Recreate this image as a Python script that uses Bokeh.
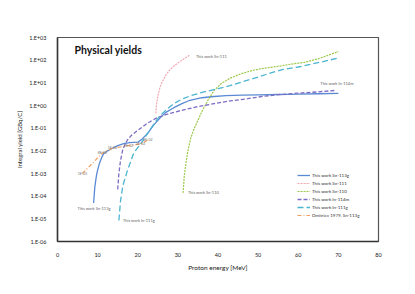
import numpy as np
from bokeh.plotting import figure
from bokeh.models import (FixedTicker, CustomJSTickFormatter, Legend, LegendItem,
                          Label, ColumnDataSource)
from bokeh.core.properties import value
from bokeh.embed import file_html
from bokeh.resources import INLINE

# ---------------- data ----------------
sn113g_E = [9.0, 9.3, 9.7, 10, 10.5, 11, 11.5, 12.5, 13.7, 15, 16.5, 18, 20, 21, 22.5,
            24, 25.7, 27, 29, 31, 33, 36, 39, 42, 46, 50, 55, 60, 65, 70]
sn113g_Y = [5e-5, 2.5e-4, 8e-4, 1.4e-3, 3e-3, 5e-3, 7.5e-3, 1.0e-2, 1.3e-2, 1.7e-2, 2.1e-2,
            2.3e-2, 2.4e-2, 3.2e-2, 6e-2, 0.14, 0.3, 0.5, 0.8, 1.2, 1.7, 2.2, 2.5, 2.7,
            2.85, 2.95, 3.05, 3.15, 3.3, 3.4]

sn111_E = [24.5, 24.7, 25, 25.5, 26, 27, 28, 29, 30, 31, 32, 33]
sn111_Y = [0.45, 1.2, 2.5, 6, 10, 22, 38, 55, 75, 100, 130, 170]

sn110_E = [31.3, 31.6, 32, 32.5, 33.2, 34, 35, 36, 37.5, 39, 40.7, 43, 45.7, 48, 50.7,
           53, 55.7, 58, 61.5, 65, 70]
sn110_Y = [1.4e-4, 8e-4, 2.8e-3, 1e-2, 0.036, 0.09, 0.22, 0.55, 1.7, 4.5, 9, 16, 25, 33,
           42, 48, 56, 66, 80, 115, 240]

in114m_E = [15, 15.3, 15.7, 16.3, 17.4, 18.5, 20, 22.5, 24.5, 27, 30.7, 35, 39, 43, 47.4,
            51, 55, 60, 65, 69]
in114m_Y = [2e-4, 1e-3, 3.7e-3, 1.2e-2, 0.03, 0.05, 0.08, 0.17, 0.27, 0.4, 0.6, 0.9, 1.2,
            1.6, 2.0, 2.5, 3.0, 3.5, 4.0, 4.6]

in111g_E = [15.3, 15.7, 16.3, 17.4, 19, 20.7, 22.5, 24, 25.5, 27.5, 29, 31, 33.2, 36, 40,
            43, 46, 50, 53, 56, 60, 63, 66, 70]
in111g_Y = [8.5e-6, 6e-5, 3e-4, 1.3e-3, 8e-3, 0.02, 0.06, 0.15, 0.35, 0.74, 1.2, 1.9, 2.7,
            3.8, 5.5, 7.5, 11, 18, 27, 38, 50, 65, 85, 125]

dmitriev_E = [6.2, 11.2, 13.7, 17.7, 20.7, 22.5]
dmitriev_Y = [1e-3, 8e-3, 1.3e-2, 1.7e-2, 2e-2, 3e-2]
dmitriev_lbl = ["1E-03", "8E-03", "1E-02", "2E-02", "2E-02", "3E-02"]

series_names = ["This work Sn-113g", "This work Sn-111", "This work Sn-110",
                "This work In-114m", "This work In-111g", "Dmitriev 1979, Sn-113g"]

y_ticks = [1e-6, 1e-5, 1e-4, 1e-3, 1e-2, 1e-1, 1e0, 1e1, 1e2, 1e3]
x_ticks = [0, 10, 20, 30, 40, 50, 60, 70, 80]

# ---------------- figure ----------------
p = figure(width=407, height=286, y_axis_type="log", x_range=(0, 80), y_range=(1e-6, 1e3),
           output_backend="svg", toolbar_location=None,
           min_border_left=57, min_border_right=29, min_border_top=37, min_border_bottom=45)
p.background_fill_color = "white"
p.border_fill_color = "white"
p.xgrid.visible = False
p.ygrid.visible = False
p.outline_line_color = "#555555"
p.outline_line_width = 1.2

FONT = "Lato"
p.yaxis.ticker = FixedTicker(ticks=y_ticks)
p.xaxis.ticker = FixedTicker(ticks=x_ticks)
p.yaxis.formatter = CustomJSTickFormatter(code="""
const e = Math.round(Math.log10(tick));
const a = Math.abs(e);
return '1.E' + (e < 0 ? '-' : '+') + (a < 10 ? '0' : '') + a;
""")
for ax in (p.xaxis[0], p.yaxis[0]):
    ax.axis_line_color = "#333333"
    ax.axis_line_width = 1.5
    ax.major_tick_line_color = None
    ax.minor_tick_line_color = None
    ax.major_label_text_font = FONT
    ax.major_label_text_font_size = "5.5px"
    ax.major_label_text_color = "#222222"
    ax.axis_label_text_font = FONT
    ax.axis_label_text_font_style = "normal"
    ax.axis_label_text_color = "#222222"
p.yaxis.major_label_standoff = 5
p.xaxis.major_label_standoff = 5
p.yaxis.axis_label = "Integral yield [GBq/C]"
p.xaxis.axis_label = "Proton energy [MeV]"
p.yaxis.axis_label_text_font_size = "6px"
p.xaxis.axis_label_text_font_size = "6.5px"
p.yaxis.axis_label_standoff = 3
p.xaxis.axis_label_standoff = 4

# ---------------- series ----------------
r1 = p.line(sn113g_E, sn113g_Y, line_color="#5A8AD4", line_width=1.3)
r2 = p.line(sn111_E, sn111_Y, line_color="#F0A8B4", line_width=1.2, line_dash="2 1")
r3 = p.line(sn110_E, sn110_Y, line_color="#9DC84B", line_width=1.2, line_dash="2 1")
r4 = p.line(in114m_E, in114m_Y, line_color="#7E6CC4", line_width=1.3, line_dash="4 2")
r5 = p.line(in111g_E, in111g_Y, line_color="#4BB4D0", line_width=1.3, line_dash="6 3")
r6 = p.line(dmitriev_E, dmitriev_Y, line_color="#F0A060", line_width=1.2, line_dash="4 2 1 2")

src = ColumnDataSource(dict(x=dmitriev_E, y=dmitriev_Y, t=dmitriev_lbl))
p.text(x="x", y="y", text="t", source=src, text_font=value(FONT), text_font_size="3.5px",
       text_color="#777777", text_align="center", text_baseline="middle")

# curve annotations
def ann(x, y, t):
    p.add_layout(Label(x=x, y=y, text=t, text_font=FONT, text_font_size="4px",
                       text_color="#666666", text_baseline="middle"))

ann(5.0, 2.9e-5, "This work Sn-113g")
ann(16.3, 8.5e-6, "This work In-111g")
ann(32.5, 1.45e-4, "This work Sn-110")
ann(34.5, 140, "This work Sn-111")
ann(65.5, 9, "This work In-114m")

p.add_layout(Label(x=4.25, y=295, text="Physical yields", text_font=FONT,
                   text_font_size="10.5px", text_font_style="bold", text_color="#111111",
                   text_baseline="middle"))

legend = Legend(items=[LegendItem(label=n, renderers=[r]) for n, r in
                       zip(series_names, [r1, r2, r3, r4, r5, r6])],
                location=(240, 22), orientation="vertical")
legend.label_text_font = FONT
legend.label_text_font_size = "4.5px"
legend.label_text_color = "#333333"
legend.glyph_width = 13
legend.glyph_height = 8
legend.label_height = 8
legend.label_standoff = 2
legend.spacing = 0
legend.padding = 2
legend.margin = 0
legend.border_line_color = None
legend.background_fill_alpha = 0
p.add_layout(legend)

open("out.html", "w").write(file_html(p, INLINE))
